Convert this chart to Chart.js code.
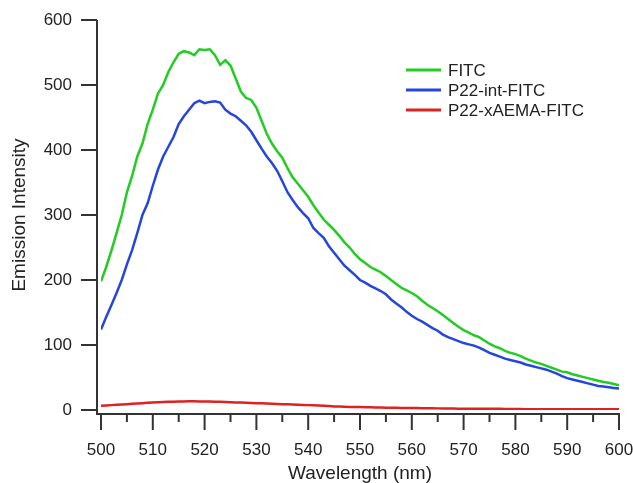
<!DOCTYPE html>
<html>
<head>
<meta charset="utf-8">
<script src="https://cdn.jsdelivr.net/npm/chart.js@4"></script>
<style>
  html, body { margin: 0; padding: 0; background: #fff; }
  #chart { display: block; }
</style>
</head>
<body>
<canvas id="chart" width="633" height="483"></canvas>
<script>
// emission spectra, 1 nm steps
const wavelengths = [
  500, 501, 502, 503, 504, 505, 506, 507, 508, 509,
  510, 511, 512, 513, 514, 515, 516, 517, 518, 519,
  520, 521, 522, 523, 524, 525, 526, 527, 528, 529,
  530, 531, 532, 533, 534, 535, 536, 537, 538, 539,
  540, 541, 542, 543, 544, 545, 546, 547, 548, 549,
  550, 551, 552, 553, 554, 555, 556, 557, 558, 559,
  560, 561, 562, 563, 564, 565, 566, 567, 568, 569,
  570, 571, 572, 573, 574, 575, 576, 577, 578, 579,
  580, 581, 582, 583, 584, 585, 586, 587, 588, 589,
  590, 591, 592, 593, 594, 595, 596, 597, 598, 599,
  600
];

const fitc = [
  198, 220, 245, 272, 300, 335, 360, 390, 410, 440,
  462, 487, 500, 520, 535, 548, 552, 550, 546, 555,
  554, 555, 546, 531, 538, 530, 510, 490, 480, 477,
  465, 445, 425, 410, 398, 388, 372, 358, 348, 338,
  328, 315, 304, 293, 285, 277, 268, 258, 250, 240,
  232, 226, 220, 216, 212, 206, 200, 194, 188, 184,
  180, 175, 168, 162, 157, 152, 146, 140, 134, 128,
  123, 119, 115, 112, 107, 102, 98, 95, 91, 88,
  86, 83, 79, 76, 73, 71, 68, 65, 62, 59,
  58, 55, 53, 51, 49, 47, 45, 43, 42, 40,
  38
];

const p22Int = [
  124, 143, 161, 180, 200, 224, 246, 272, 300, 318,
  345, 370, 390, 405, 420, 440, 452, 462, 472, 476,
  472, 474, 475, 473, 462, 456, 452, 445, 438, 428,
  415, 402, 390, 380, 368, 352, 335, 323, 312, 303,
  295, 280, 272, 265, 252, 242, 232, 222, 215, 208,
  200, 196, 191, 187, 183, 178, 170, 164, 158, 151,
  145, 140, 136, 131, 126, 122, 116, 112, 109, 106,
  103, 101, 99, 96, 92, 88, 85, 82, 79, 77,
  75, 73, 70, 68, 66, 64, 62, 59, 56, 52,
  49, 47, 45, 43, 41, 39, 37, 36, 35, 34,
  33
];

const p22xAEMA = [
  6.5, 7, 7.5, 8, 8.5, 9, 9.5, 10, 10.5, 11,
  11.5, 12, 12.3, 12.6, 12.8, 13, 13.2, 13.3, 13.3, 13.2,
  13, 12.9, 12.8, 12.6, 12.3, 12, 11.7, 11.4, 11, 10.7,
  10.5, 10.2, 9.9, 9.6, 9.3, 9, 8.7, 8.4, 8.1, 7.8,
  7.5, 7.2, 6.9, 6.5, 6, 5.5, 5.2, 5, 4.8, 4.6,
  4.5, 4.3, 4.1, 3.9, 3.7, 3.5, 3.4, 3.3, 3.2, 3.1,
  3, 2.9, 2.8, 2.7, 2.6, 2.5, 2.4, 2.3, 2.2, 2.1,
  2, 2, 2, 2, 2, 2, 1.9, 1.8, 1.7, 1.6,
  1.5, 1.4, 1.3, 1.2, 1.2, 1.2, 1.1, 1.1, 1.1, 1,
  1, 1, 1, 1, 1, 1, 1, 1, 1, 1,
  1
];

const seriesLabels = ['FITC', 'P22-int-FITC', 'P22-xAEMA-FITC'];
const seriesColors = ['#22cc22', '#2546dd', '#dd2222'];
const yTicks = [0, 100, 200, 300, 400, 500, 600];

const FONT = 'Arial, "Liberation Sans", sans-serif';
const INK = '#222';
const AXIS = '#333';

const toPoints = vals => wavelengths.map((w, i) => ({ x: w, y: vals[i] }));

// axis lines sit a few px outside the plot area, Igor style
const axesPlugin = {
  id: 'igorAxes',
  afterDraw(chart) {
    const { ctx, chartArea } = chart;
    const xs = chart.scales.x, ys = chart.scales.y;
    const axX = chartArea.left - 4;
    const axY = chartArea.bottom + 4;
    ctx.save();
    ctx.strokeStyle = AXIS;
    ctx.lineWidth = 2;
    ctx.lineCap = 'butt';
    ctx.beginPath();
    ctx.moveTo(axX, ys.getPixelForValue(600));
    ctx.lineTo(axX, axY + 1);
    ctx.moveTo(axX - 1, axY);
    ctx.lineTo(xs.getPixelForValue(600) + 1, axY);
    // y ticks
    yTicks.forEach(v => {
      const py = ys.getPixelForValue(v);
      ctx.moveTo(axX - 16, py);
      ctx.lineTo(axX, py);
    });
    // x ticks, major every 10, minor every 5
    for (let w = 500; w <= 600; w += 5) {
      const px = xs.getPixelForValue(w);
      const len = (w % 10 === 0) ? 16 : 8;
      ctx.moveTo(px, axY);
      ctx.lineTo(px, axY + len);
    }
    ctx.stroke();

    // legend
    ctx.font = '17px ' + FONT;
    ctx.textBaseline = 'middle';
    ctx.textAlign = 'left';
    chart.data.datasets.forEach((ds, i) => {
      const y = 70 + i * 20;
      ctx.strokeStyle = ds.borderColor;
      ctx.lineWidth = 3;
      ctx.beginPath();
      ctx.moveTo(406, y);
      ctx.lineTo(441, y);
      ctx.stroke();
      ctx.fillStyle = INK;
      ctx.fillText(ds.label, 448, y + 1);
    });
    ctx.restore();
  }
};

new Chart(document.getElementById('chart'), {
  type: 'line',
  data: {
    datasets: [
      { label: seriesLabels[0], data: toPoints(fitc), borderColor: seriesColors[0] },
      { label: seriesLabels[1], data: toPoints(p22Int), borderColor: seriesColors[1] },
      { label: seriesLabels[2], data: toPoints(p22xAEMA), borderColor: seriesColors[2] },
    ],
  },
  options: {
    responsive: false,
    animation: false,
    devicePixelRatio: 1,
    layout: { padding: { top: 20, right: 14, left: 0, bottom: 0 } },
    elements: {
      point: { radius: 0 },
      line: { borderWidth: 2.5, tension: 0, fill: false },
    },
    plugins: { legend: { display: false }, tooltip: { enabled: false } },
    scales: {
      x: {
        type: 'linear',
        min: 500,
        max: 600,
        afterFit: s => { s.height = 73; s.paddingLeft = 0; s.paddingRight = 0; },
        border: { display: false },
        grid: { display: false, drawTicks: false },
        ticks: { stepSize: 10, padding: 30, color: INK, font: { family: FONT, size: 17 } },
        title: {
          display: true,
          text: 'Wavelength (nm)',
          color: INK,
          font: { family: FONT, size: 19, lineHeight: 1 },
          padding: { top: 0, bottom: 0 },
        },
      },
      y: {
        min: 0,
        max: 600,
        afterFit: s => { s.width = 101; s.paddingTop = 0; s.paddingBottom = 0; },
        border: { display: false },
        grid: { display: false, drawTicks: false },
        ticks: { stepSize: 100, padding: 29, color: INK, font: { family: FONT, size: 17 } },
        title: {
          display: true,
          text: 'Emission Intensity',
          color: INK,
          font: { family: FONT, size: 19, lineHeight: 1 },
          padding: { top: 10, bottom: 0 },
        },
      },
    },
  },
  plugins: [axesPlugin],
});
</script>
</body>
</html>
